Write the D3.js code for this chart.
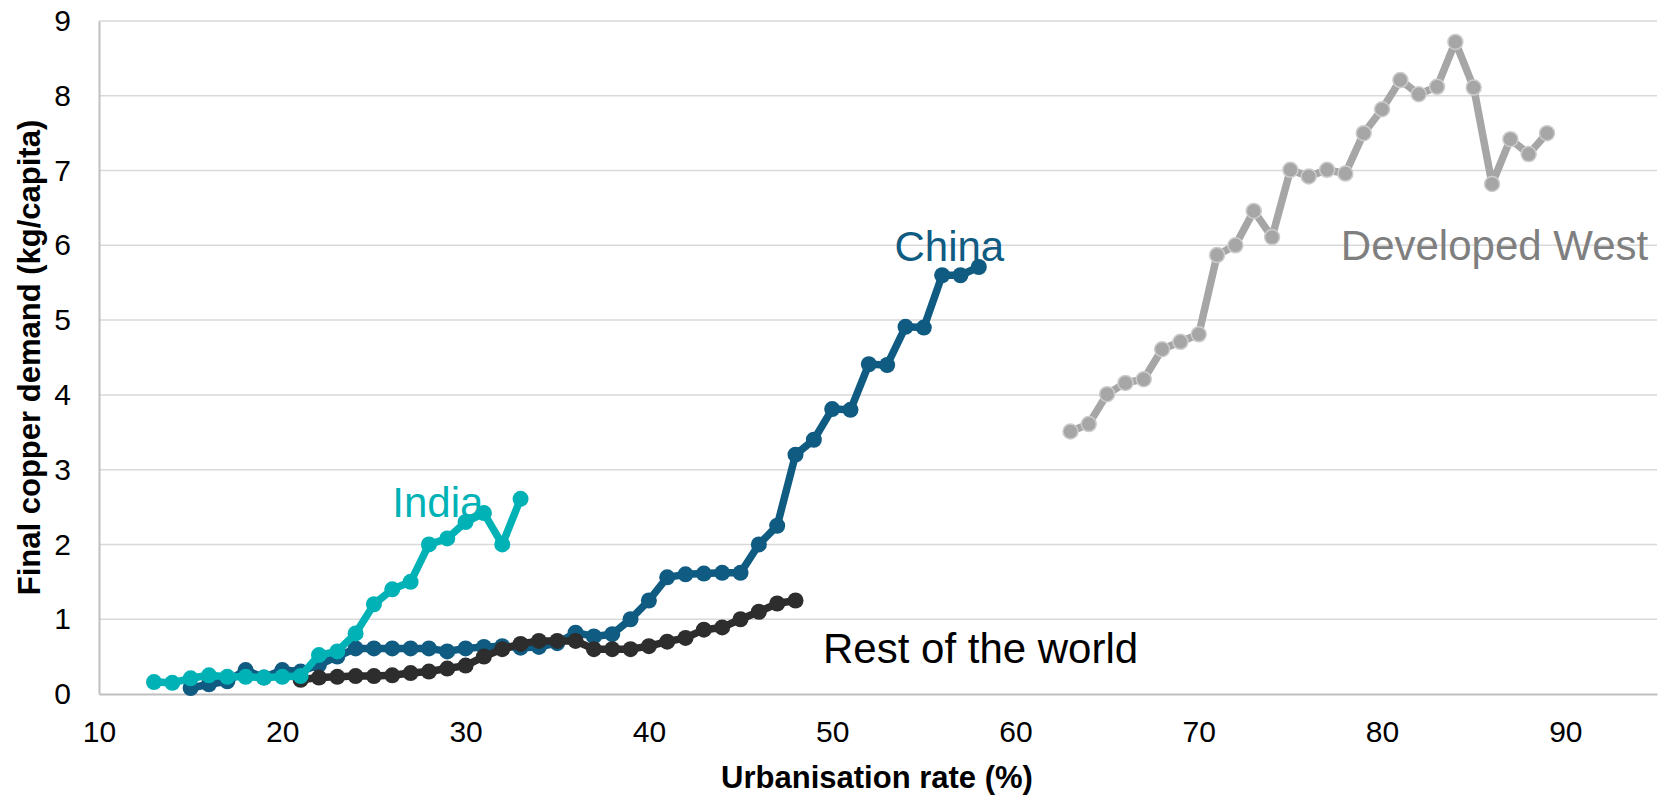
<!DOCTYPE html>
<html>
<head>
<meta charset="utf-8">
<script src="https://cdn.jsdelivr.net/npm/d3@7"></script>
<style>
  body { margin: 0; background: #fff; }
  text { font-family: "Liberation Sans", Arial, sans-serif; }
</style>
</head>
<body>
<div id="chart"></div>
<script>
// urbanisation rate (%) and final copper demand (kg/capita)
const indiaX = [13, 14, 15, 16, 17, 18, 19, 20, 21, 22, 23, 24, 25, 26, 27, 28, 29, 30, 31, 32, 33];
const indiaY = [0.16, 0.15, 0.21, 0.25, 0.23, 0.23, 0.22, 0.23, 0.24, 0.52, 0.57, 0.81, 1.20, 1.40, 1.50, 2.00, 2.08, 2.30, 2.42, 2.00, 2.61];

const chinaX = [15, 16, 17, 18, 19, 20, 21, 22, 23, 24, 25, 26, 27, 28, 29, 30, 31, 32, 33, 34, 35, 36,
                37, 38, 39, 40, 41, 42, 43, 44, 45, 46, 47, 48, 49, 50, 51, 52, 53, 54, 55, 56, 57, 58];
const chinaY = [0.08, 0.13, 0.17, 0.32, 0.22, 0.32, 0.30, 0.39, 0.50, 0.61, 0.61, 0.61, 0.61, 0.61, 0.57, 0.61, 0.63, 0.64, 0.62, 0.63, 0.68, 0.82,
                0.77, 0.80, 1.00, 1.25, 1.56, 1.60, 1.61, 1.62, 1.62, 2.00, 2.25, 3.20, 3.40, 3.81, 3.80, 4.41, 4.40, 4.91, 4.90, 5.60, 5.60, 5.71];

const rowX = [21, 22, 23, 24, 25, 26, 27, 28, 29, 30, 31, 32, 33, 34, 35, 36, 37, 38, 39, 40, 41, 42, 43, 44, 45, 46, 47, 48];
const rowY = [0.19, 0.22, 0.23, 0.24, 0.24, 0.25, 0.28, 0.30, 0.34, 0.38, 0.50, 0.60, 0.67, 0.71, 0.71, 0.71, 0.60, 0.60, 0.60, 0.64, 0.70, 0.75, 0.86, 0.89, 1.00, 1.10, 1.21, 1.25];

const westX = [63, 64, 65, 66, 67, 68, 69, 70, 71, 72, 73, 74, 75, 76, 77, 78, 79, 80, 81, 82, 83, 84, 85, 86, 87, 88, 89];
const westY = [3.51, 3.61, 4.01, 4.16, 4.21, 4.61, 4.71, 4.81, 5.87, 6.00, 6.46, 6.11, 7.01, 6.92, 7.01, 6.96, 7.50, 7.82, 8.21, 8.02, 8.12, 8.72, 8.11, 6.82, 7.42, 7.22, 7.50];

const xTicks = [10, 20, 30, 40, 50, 60, 70, 80, 90];
const yTicks = [0, 1, 2, 3, 4, 5, 6, 7, 8, 9];

const width = 1669, height = 795;
const margin = {top: 21, right: 12, bottom: 101, left: 99};

const svg = d3.select("#chart")
    .append("svg")
    .attr("width", width)
    .attr("height", height);

const x = d3.scaleLinear().domain([10, 95]).range([margin.left, width - margin.right]);
const y = d3.scaleLinear().domain([0, 9]).range([height - margin.bottom, margin.top]);

// gridlines
svg.append("g")
    .selectAll("line")
    .data(yTicks.slice(1))
    .enter()
    .append("line")
    .attr("x1", x(10))
    .attr("x2", x(95))
    .attr("y1", d => y(d))
    .attr("y2", d => y(d))
    .attr("stroke", "#d9d9d9")
    .attr("stroke-width", 1.5);

// axes
const yAxis = svg.append("g")
    .attr("transform", `translate(${margin.left},0)`)
    .call(d3.axisLeft(y).tickValues(yTicks).tickSize(0).tickPadding(28));
yAxis.select(".domain").attr("stroke", "#bfbfbf").attr("stroke-width", 2);

const xAxis = svg.append("g")
    .attr("transform", `translate(0,${height - margin.bottom})`)
    .call(d3.axisBottom(x).tickValues(xTicks).tickSize(0).tickPadding(27));
xAxis.select(".domain").attr("stroke", "#bfbfbf").attr("stroke-width", 2);

svg.selectAll(".tick text")
    .style("font-size", "30px")
    .style("font-family", "'Liberation Sans', Arial, sans-serif")
    .attr("fill", "#000");

// axis titles
svg.append("text")
    .attr("x", (margin.left + width - margin.right) / 2 - 1)
    .attr("y", 788)
    .attr("text-anchor", "middle")
    .style("font-size", "31px")
    .style("font-weight", "bold")
    .text("Urbanisation rate (%)");

svg.append("text")
    .attr("transform", `translate(40,${(margin.top + height - margin.bottom) / 2}) rotate(-90)`)
    .attr("text-anchor", "middle")
    .style("font-size", "31px")
    .style("font-weight", "bold")
    .text("Final copper demand (kg/capita)");

const series = [
    {name: "Developed West", xs: westX, ys: westY, color: "#a6a6a6", outline: "#cccccc"},
    {name: "China", xs: chinaX, ys: chinaY, color: "#0f5b82", outline: null},
    {name: "Rest of the world", xs: rowX, ys: rowY, color: "#2d2d2d", outline: null},
    {name: "India", xs: indiaX, ys: indiaY, color: "#00b2b6", outline: null}
];

const line = d3.line()
    .x(d => x(d[0]))
    .y(d => y(d[1]));

series.forEach(s => {
    const pts = s.xs.map((v, i) => [v, s.ys[i]]);
    const g = svg.append("g");
    g.append("path")
        .datum(pts)
        .attr("d", line)
        .attr("fill", "none")
        .attr("stroke", s.color)
        .attr("stroke-width", 7.5)
        .attr("stroke-linejoin", "round");
    g.selectAll("circle")
        .data(pts)
        .enter()
        .append("circle")
        .attr("cx", d => x(d[0]))
        .attr("cy", d => y(d[1]))
        .attr("r", s.outline ? 7.5 : 8)
        .attr("fill", s.color)
        .attr("stroke", s.outline || "none")
        .attr("stroke-width", s.outline ? 1.5 : 0);
});

// series labels
const labels = [
    {text: "India", lx: 26.0, ly: 2.37, color: "#00b2b6"},
    {text: "China", lx: 53.4, ly: 5.79, color: "#0f5b82"},
    {text: "Developed West", lx: 77.75, ly: 5.8, color: "#7f7f7f"},
    {text: "Rest of the world", lx: 49.5, ly: 0.41, color: "#000000"}
];

svg.append("g")
    .selectAll("text")
    .data(labels)
    .enter()
    .append("text")
    .attr("x", d => x(d.lx))
    .attr("y", d => y(d.ly))
    .attr("fill", d => d.color)
    .style("font-size", "42px")
    .text(d => d.text);
</script>
</body>
</html>
